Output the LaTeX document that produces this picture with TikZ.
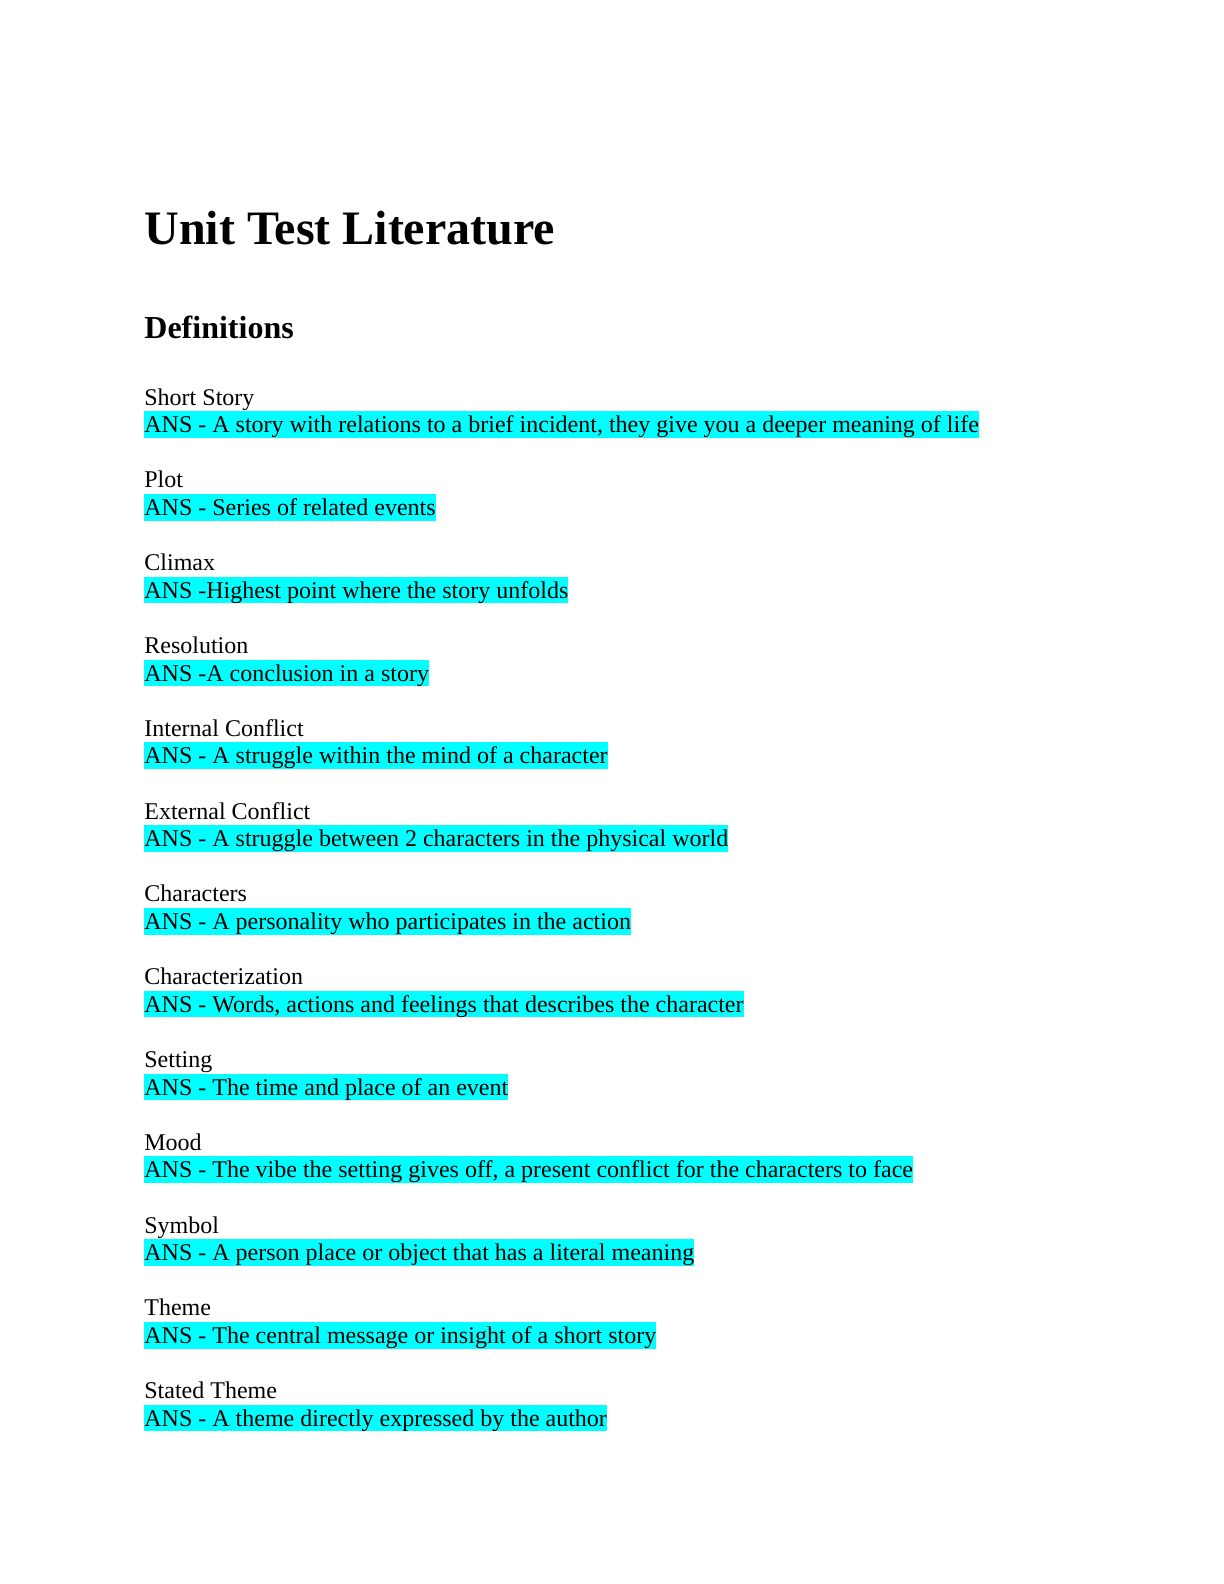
\documentclass[tikz,border=0pt]{standalone}
\usepackage{fontspec}
\setmainfont{Liberation Serif}
\definecolor{Highlight}{HTML}{00FFFF}

\begin{document}
\begin{tikzpicture}[x=1pt, y=1pt,
    term/.style={anchor=base west, inner sep=0pt, font=\fontsize{12}{13.8}\selectfont},
    answer/.style={term, fill=Highlight, text height=10.7pt, text depth=2.6pt}]
    \useasboundingbox (0,0) rectangle (612,-792);
    % Headings
    \node[anchor=base west, inner sep=0pt, font=\fontsize{24}{28}\selectfont\bfseries] (title) at (72,-122) {Unit Test Literature};
    \node[anchor=base west, inner sep=0pt, font=\fontsize{16}{19}\selectfont\bfseries] (defs) at (72,-169) {Definitions};
    % Terms with their answers
    \foreach \term/\ans [count=\i from 0] in {
        {Short Story}/{ANS - A story with relations to a brief incident, they give you a deeper meaning of life},
        {Plot}/{ANS - Series of related events},
        {Climax}/{ANS -Highest point where the story unfolds},
        {Resolution}/{ANS -A conclusion in a story},
        {Internal Conflict}/{ANS - A struggle within the mind of a character},
        {External Conflict}/{ANS - A struggle between 2 characters in the physical world},
        {Characters}/{ANS - A personality who participates in the action},
        {Characterization}/{ANS - Words, actions and feelings that describes the character},
        {Setting}/{ANS - The time and place of an event},
        {Mood}/{ANS - The vibe the setting gives off, a present conflict for the characters to face},
        {Symbol}/{ANS - A person place or object that has a literal meaning},
        {Theme}/{ANS - The central message or insight of a short story},
        {Stated Theme}/{ANS - A theme directly expressed by the author}} {
        \node[term] (term\i) at (72,-202.5-41.4*\i) {\term};
        \node[answer] (ans\i) at (72,-216.3-41.4*\i) {\ans};
    }
\end{tikzpicture}
\end{document}
